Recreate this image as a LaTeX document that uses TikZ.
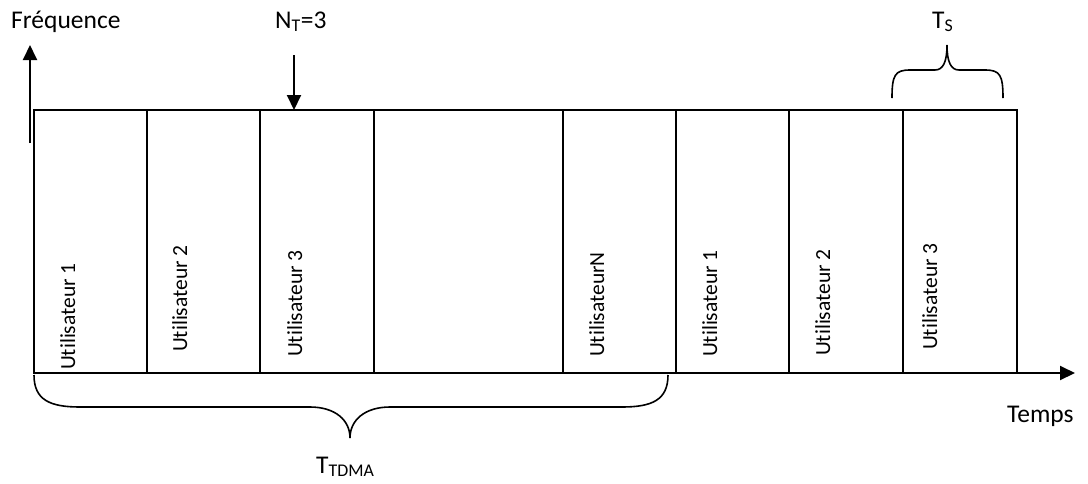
\documentclass[tikz,border=0pt]{standalone}
\usepackage{fontspec}
\setmainfont[Ligatures=NoCommon]{Carlito}
\usetikzlibrary{arrows.meta}

\tikzset{
    slot/.style={draw, rectangle, line width=2.2pt, inner sep=0pt, outer sep=0pt, minimum height=263pt, anchor=north west},
    user/.style={rotate=90, anchor=base west, inner sep=0pt, font=\fontsize{21.5}{24}\selectfont},
    lbl/.style={anchor=base west, inner sep=0pt, font=\fontsize{25.5}{28}\selectfont},
    axis/.style={line width=2pt, -{Triangle[width=14pt,length=15pt]}},
    brace/.style={line width=1.6pt}
}

\begin{document}
\begin{tikzpicture}[x=1pt, y=-1pt]
        \useasboundingbox (0,0) rectangle (1088,483);

        % Time slots
        \node[slot, minimum width=113pt] (s1) at (34,110) {};
        \node[slot, minimum width=113pt] (s2) at (147,110) {};
        \node[slot, minimum width=114pt] (s3) at (260,110) {};
        \node[slot, minimum width=189pt] (s4) at (374,110) {};
        \node[slot, minimum width=113pt] (s5) at (563,110) {};
        \node[slot, minimum width=113pt] (s6) at (676,110) {};
        \node[slot, minimum width=114pt] (s7) at (789,110) {};
        \node[slot, minimum width=114pt] (s8) at (903,110) {};

        % Users (vertical text)
        \node[user] (u1) at (75,370) {Utilisateur 1};
        \node[user] (u2) at (187,352) {Utilisateur 2};
        \node[user] (u3) at (302,357) {Utilisateur 3};
        \node[user] (uN) at (604,357) {UtilisateurN};
        \node[user] (u1b) at (717,357) {Utilisateur 1};
        \node[user] (u2b) at (830,356) {Utilisateur 2};
        \node[user] (u3b) at (937,350) {Utilisateur 3};

        % Labels
        \node[lbl] (freq) at (11,28) {Fréquence};
        \node[lbl] (nt) at (275,28) {N\textsubscript{T}=3};
        \node[lbl] (ts) at (932,28) {T\textsubscript{S}};
        \node[lbl] (temps) at (1007,422) {Temps};
        \node[lbl] (ttdma) at (316,473) {T\textsubscript{TDMA}};

        % Axes
        \coordinate (f0) at (30,143);
        \coordinate (f1) at (30,45);
        \coordinate (t1) at (1075,373);
        \draw[axis] (f0) -- (f1);
        \draw[axis] (s1.south west) -- (t1);

        % Arrow on the third slot
        \coordinate (n0) at (294,55);
        \coordinate (n1) at (294,110);
        \draw[axis] (n0) -- (n1);

        % Brace over one slot
        \draw[brace] (892,98) .. controls (892,75) and (895,70) .. (910,70) -- (935,70) .. controls (943,70) and (947,62) .. (947,45);
        \draw[brace] (1003,98) .. controls (1003,75) and (1000,70) .. (985,70) -- (959,70) .. controls (951,70) and (947,62) .. (947,45);

        % Brace under one frame
        \draw[brace] (34,375) .. controls (34,400) and (50,407) .. (80,407) -- (310,407) .. controls (335,407) and (350,420) .. (350,438);
        \draw[brace] (668,375) .. controls (668,400) and (652,407) .. (622,407) -- (390,407) .. controls (365,407) and (350,420) .. (350,438);

    \end{tikzpicture}
\end{document}
